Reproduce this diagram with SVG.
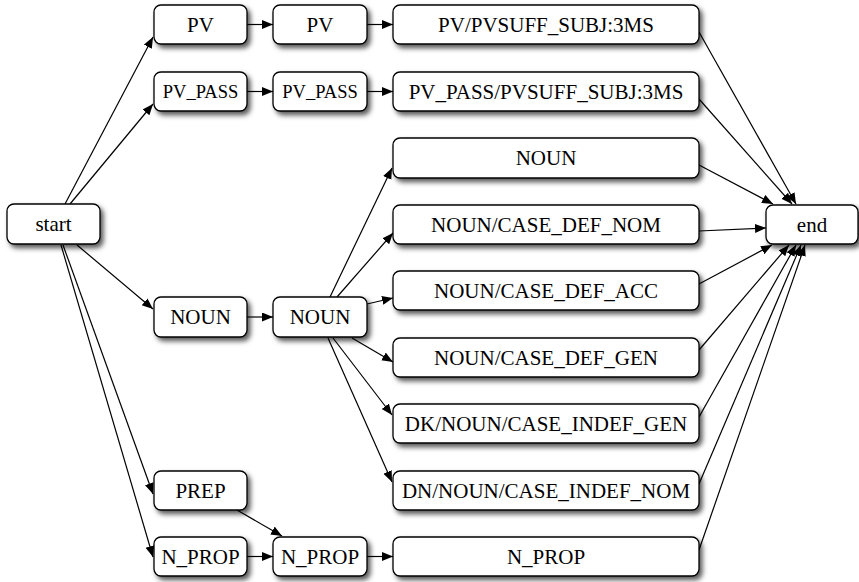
<svg xmlns="http://www.w3.org/2000/svg" width="859" height="582" viewBox="0 0 859 582">
  <defs>
    <filter id="shadow" x="-20%" y="-30%" width="150%" height="190%">
      <feDropShadow dx="3" dy="3.5" stdDeviation="2.6" flood-color="#000" flood-opacity="0.65"/>
    </filter>
    <marker id="arrow" markerUnits="userSpaceOnUse" markerWidth="12" markerHeight="10" refX="11" refY="4.5" orient="auto">
      <path d="M0,0 L11,4.5 L0,9 z" fill="#000"/>
    </marker>
    <style>
      .node rect { fill: #fff; stroke: #000; stroke-width: 1.3; filter: url(#shadow); }
      .node text { font-family: "Liberation Serif", "Times New Roman", serif; font-size: 21px; text-anchor: middle; fill: #000; }
      .node text.small { font-size: 18.5px; }
      #edges path { fill: none; stroke: #000; stroke-width: 1.2; marker-end: url(#arrow); }
    </style>
  </defs>
  <rect width="859" height="582" fill="#fff"/>

  <!-- connectors -->
  <g id="edges">
    <path d="M65,204 L153,37"/>
    <path d="M70,204 L153,104"/>
    <path d="M77,245 L153,309"/>
    <path d="M63,245 L153,494"/>
    <path d="M61,245 L153,557"/>
    <path d="M247,24.5 L273,24.5"/>
    <path d="M367,24.5 L393,24.5"/>
    <path d="M247,91.5 L273,91.5"/>
    <path d="M367,91.5 L393,91.5"/>
    <path d="M247,317 L273,317"/>
    <path d="M330,297 L392,168"/>
    <path d="M337,297 L393,233"/>
    <path d="M367,304 L393,298"/>
    <path d="M352,338 L393,362"/>
    <path d="M333,338 L392,415"/>
    <path d="M328,338 L392,482"/>
    <path d="M237,510 L282,536"/>
    <path d="M247,556.5 L273,556.5"/>
    <path d="M367,556.5 L393,556.5"/>
    <path d="M699,32 L796,204"/>
    <path d="M699,99 L792,204"/>
    <path d="M699,165 L773,204"/>
    <path d="M699,231 L766,228"/>
    <path d="M699,284 L772,245"/>
    <path d="M699,350 L789,245"/>
    <path d="M699,417 L796,245"/>
    <path d="M699,484 L801,245"/>
    <path d="M699,550 L805,245"/>
  </g>

  <!-- nodes -->
  <g id="start" class="node"><rect x="7" y="204" width="93" height="40" rx="7"/><text x="53.5" y="231">start</text></g>
  <g id="pv1" class="node"><rect x="154" y="5" width="93" height="39" rx="7"/><text x="200.5" y="32">PV</text></g>
  <g id="pv2" class="node"><rect x="273" y="5" width="94" height="39" rx="7"/><text x="320" y="32">PV</text></g>
  <g id="pv3" class="node"><rect x="393" y="5" width="306" height="39" rx="7"/><text x="546" y="32">PV/PVSUFF_SUBJ:3MS</text></g>
  <g id="pvpass1" class="node"><rect x="154" y="72" width="93" height="39" rx="7"/><text class="small" x="200.5" y="98">PV_PASS</text></g>
  <g id="pvpass2" class="node"><rect x="273" y="72" width="94" height="39" rx="7"/><text class="small" x="320" y="98">PV_PASS</text></g>
  <g id="pvpass3" class="node"><rect x="393" y="72" width="306" height="39" rx="7"/><text x="546" y="99">PV_PASS/PVSUFF_SUBJ:3MS</text></g>
  <g id="noun3" class="node"><rect x="393" y="138" width="306" height="40" rx="7"/><text x="546" y="165">NOUN</text></g>
  <g id="noun_def_nom" class="node"><rect x="393" y="205" width="306" height="39" rx="7"/><text x="546" y="232">NOUN/CASE_DEF_NOM</text></g>
  <g id="noun_def_acc" class="node"><rect x="393" y="271" width="306" height="39" rx="7"/><text x="546" y="298">NOUN/CASE_DEF_ACC</text></g>
  <g id="noun_def_gen" class="node"><rect x="393" y="338" width="306" height="39" rx="7"/><text x="546" y="365">NOUN/CASE_DEF_GEN</text></g>
  <g id="dk_indef_gen" class="node"><rect x="393" y="404" width="306" height="39" rx="7"/><text x="546" y="431">DK/NOUN/CASE_INDEF_GEN</text></g>
  <g id="dn_indef_nom" class="node"><rect x="393" y="471" width="306" height="39" rx="7"/><text x="546" y="498">DN/NOUN/CASE_INDEF_NOM</text></g>
  <g id="nprop3" class="node"><rect x="393" y="537" width="306" height="39" rx="7"/><text x="546" y="564">N_PROP</text></g>
  <g id="end" class="node"><rect x="766" y="205" width="92" height="39" rx="7"/><text x="812" y="232">end</text></g>
  <g id="noun1" class="node"><rect x="154" y="297" width="93" height="40" rx="7"/><text x="200.5" y="324">NOUN</text></g>
  <g id="noun2" class="node"><rect x="273" y="297" width="94" height="40" rx="7"/><text x="320" y="324">NOUN</text></g>
  <g id="prep" class="node"><rect x="154" y="471" width="93" height="39" rx="7"/><text x="200.5" y="498">PREP</text></g>
  <g id="nprop1" class="node"><rect x="154" y="537" width="93" height="39" rx="7"/><text x="200.5" y="564">N_PROP</text></g>
  <g id="nprop2" class="node"><rect x="273" y="537" width="94" height="39" rx="7"/><text x="320" y="564">N_PROP</text></g>
</svg>
